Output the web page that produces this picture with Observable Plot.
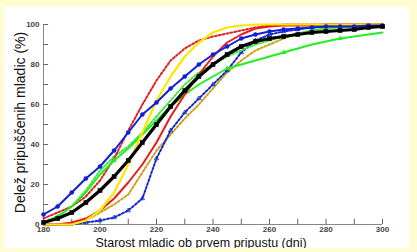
<!DOCTYPE html>
<html><head><meta charset="utf-8">
<script src="https://cdn.jsdelivr.net/npm/d3@7"></script>
<script src="https://cdn.jsdelivr.net/npm/@observablehq/plot@0.6"></script>
<style>
html,body{margin:0;padding:0;background:#fffbd3;}
#panel{position:absolute;left:4px;top:7px;width:405px;height:241px;background:#fff;}
</style></head><body><div id="panel"></div>
<script>
const days = [180,185,190,195,200,205,210,215,220,225,230,235,240,245,250,255,260,265,270,275,280,285,290,295,300];
const blueSolid  = [5,9,16,23,29,37,46,55,61,68,74,80,85,89,93,95,96.5,97.5,98,98.5,99,99,99,99.5,99.5];
const redDotted  = [3,6,9,14,22,33,47,60,72,82,88,92,94,95.5,97,98.5,99.5,100,100,100,100,100,100,100,100];
const yellowSolid= [0,0,0,2,7,16,30,46,62,74,84,91,96,98.5,99.5,100,100,100,100,100,100,100,100,100,100];
const blackSolid = [1,3,6,11,17,24,32,41,50,59,67,74,80,85,89,91.5,93,94,95,96,96.5,97,97.5,98.5,99];
const redSolid   = [0,0,1,3,7,13,21,30,41,54,65,75,84,91,95,98,99,99.5,99.5,99.5,100,100,100,100,100];
const goldDotted = [0,0,0,2,6,10,15,26,37,45,53,60,68,76,82,87,90,93,95.5,97,98,98.5,99,99,99];
const blueDotted = [0,0,0,1,2,3.5,7,13,33,47,56,63,70,77,86,92,95,96.5,97.5,98.5,99,99,99,99,99];
const greenSolid = [1,4,9,16,25,32,38,45,52,59,65,70,74,78,80,82,84,86,88,90,91.5,93,94,95,96];
const greenDotted= [1,4,9,17,27,34,39,46,54,62,70,76,80,84,87,90,92,94,95.5,97,98,98.5,99,99,99];

const yMajor = [0,20,40,60,80,100];
const yMinor = [0,10,20,30,40,50,60,70,80,90,100];
const xMajor = [180,200,220,240,260,280,300];
const xMinor = [180,190,200,210,220,230,240,250,260,270,280,290,300];

const series = [
  {name:"goldDotted", v:goldDotted, color:"#c9a21a", dash:"2,2", w:2},
  {name:"blueDotted", v:blueDotted, color:"#1428c8", dash:"2,2", w:2},
  {name:"greenDotted", v:greenDotted, color:"#3ee63e", dash:"2,2", w:2},
  {name:"redDotted", v:redDotted, color:"#e02020", dash:"2,2", w:2},
  {name:"greenSolid", v:greenSolid, color:"#22ee22", dash:null, w:2},
  {name:"redSolid", v:redSolid, color:"#e81c1c", dash:null, w:2},
  {name:"yellowSolid", v:yellowSolid, color:"#ffe600", dash:null, w:2.2},
  {name:"blueSolid", v:blueSolid, color:"#1020d8", dash:null, w:2},
  {name:"blackSolid", v:blackSolid, color:"#000000", dash:null, w:3.2}
];
const rows = s => days.map((d,i)=>({d, v:s.v[i]}));

const marks = [];
for (const s of series) {
  marks.push(Plot.line(rows(s), {x:"d", y:"v", stroke:s.color, strokeWidth:s.w, strokeDasharray:s.dash, curve:"linear"}));
  if (s.name==="blueSolid") marks.push(Plot.dot(rows(s), {x:"d", y:"v", r:2.3, fill:s.color}));
  if (s.name==="blackSolid") marks.push(Plot.dot(rows(s), {x:"d", y:"v", r:2.6, symbol:"square", fill:"#000"}));
  if (s.name==="blueDotted") marks.push(Plot.dot(rows(s).filter(r=>r.d>=195), {x:"d", y:"v", r:1.6, symbol:"triangle", stroke:s.color, strokeWidth:0.8}));
  if (s.name==="greenSolid") marks.push(Plot.dot(rows(s).filter(r=>r.d%20===5), {x:"d", y:"v", r:2, symbol:"triangle", fill:s.color}));
}

const plot = Plot.plot({
  width:405, height:241,
  marginLeft:39, marginRight:27, marginTop:17, marginBottom:24,
  style:{fontFamily:"'Liberation Sans', Arial, sans-serif", background:"transparent"},
  x:{domain:[180,300]},
  y:{domain:[0,100]},
  marks:[
    Plot.ruleY([0], {stroke:"#888"}),
    Plot.ruleX([180], {stroke:"#888"}),
    Plot.ruleY(yMinor, {x1:180, x2:181.8, stroke:"#666"}),
    Plot.ruleX(xMinor, {y1:0, y2:2.6, stroke:"#666"}),
    Plot.axisY({ticks:yMajor, tickSize:0, tickPadding:4, fontSize:8, fontWeight:"bold", fill:"#444", label:null}),
    Plot.axisX({ticks:xMajor, tickSize:0, tickPadding:2, fontSize:8, fontWeight:"bold", fill:"#444", label:null}),
    ...marks,
    Plot.text(["Delež pripuščenih mladic (%)"], {frameAnchor:"left", textAnchor:"middle", lineAnchor:"middle", dx:-23, dy:-2, rotate:-90, fontSize:14, fill:"#111"}),
    Plot.text(["Starost mladic ob prvem pripustu (dni)"], {frameAnchor:"bottom", textAnchor:"middle", lineAnchor:"middle", dx:-12, dy:18, fontSize:12.5, fill:"#111"})
  ]
});
document.getElementById("panel").appendChild(plot);
</script></body></html>
